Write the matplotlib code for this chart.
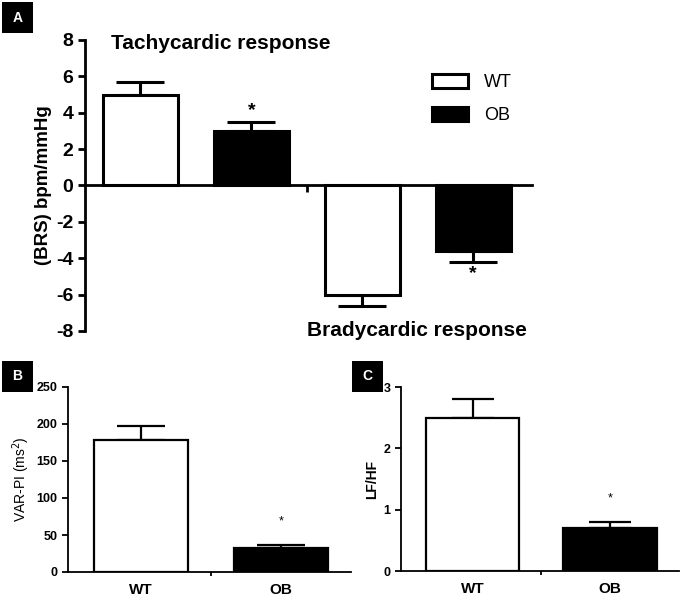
import matplotlib
matplotlib.use('Agg')
import matplotlib.pyplot as plt
from matplotlib.patches import Rectangle

plt.rcParams['font.family'] = ['Liberation Sans', 'DejaVu Sans']
plt.rcParams['axes.unicode_minus'] = False

# panel A: baroreflex sensitivity
groups = ['WT', 'OB']
tachy = [5.0, 3.0]
tachy_err = [0.7, 0.5]
brady = [-6.0, -3.6]
brady_err = [0.6, 0.6]

# panel B: VAR-PI
varpi = [178, 33]
varpi_err = [19, 4]

# panel C: LF/HF
lfhf = [2.5, 0.7]
lfhf_err = [0.3, 0.1]

colors = ['white', 'black']

fig = plt.figure(figsize=(6.8, 5.96), dpi=100)

def panel_label(x, y, s):
    fig.patches.append(Rectangle((x / 680, 1 - (y + 31) / 596), 31 / 680, 31 / 596,
                                 transform=fig.transFigure, facecolor='black', edgecolor='none'))
    fig.text((x + 15.5) / 680, 1 - (y + 15.5) / 596, s, color='white', fontsize=10,
             fontweight='bold', ha='center', va='center')

# ---- A ----
axA = fig.add_axes([85 / 680, 1 - 331 / 596, (532 - 85) / 680, (331 - 40) / 596])
pos = [0, 1, 2, 3]
vals = [tachy[0], tachy[1], brady[0], brady[1]]
errs = [tachy_err[0], tachy_err[1], brady_err[0], brady_err[1]]
cols = [colors[0], colors[1], colors[0], colors[1]]
bars = axA.bar(pos, vals, width=0.68, color=cols, edgecolor='black', linewidth=2.2, zorder=2)
bars[0].set_label('WT')
bars[1].set_label('OB')
for p, v, e in zip(pos, vals, errs):
    yerr = [[0], [e]] if v > 0 else [[e], [0]]
    axA.errorbar(p, v, yerr=yerr, fmt='none', ecolor='black', elinewidth=2.2,
                 capsize=17.5, capthick=2.2, zorder=1)
axA.set_xlim(-0.5, 3.53)
axA.set_ylim(-8, 8)
axA.set_yticks(range(-8, 9, 2))
axA.set_xticks([1.5])
axA.set_xticklabels([''])
axA.spines['top'].set_visible(False)
axA.spines['right'].set_visible(False)
axA.spines['bottom'].set_position(('data', 0))
for s in ['left', 'bottom']:
    axA.spines[s].set_linewidth(2)
axA.tick_params(axis='y', width=2, length=5, labelsize=14)
axA.tick_params(axis='x', width=2, length=5)
for t in axA.get_yticklabels():
    t.set_fontweight('bold')
axA.set_ylabel('(BRS) bpm/mmHg', fontsize=13.5, fontweight='bold', labelpad=3)
axA.text(0.72, 7.8, 'Tachycardic response', fontsize=15, fontweight='bold', ha='center', va='center')
axA.text(2.49, -7.95, 'Bradycardic response', fontsize=15, fontweight='bold', ha='center', va='center')
axA.text(1, 4.1, '*', fontsize=14, fontweight='bold', ha='center', va='center')
axA.text(3, -4.85, '*', fontsize=14, fontweight='bold', ha='center', va='center')
axA.legend(loc='upper left', bbox_to_anchor=(0.74, 0.94), frameon=False, fontsize=13,
           handlelength=2.0, handleheight=0.8, labelspacing=0.9, handletextpad=0.9)

# ---- B ----
axB = fig.add_axes([68 / 680, 1 - 572 / 596, (351 - 68) / 680, (572 - 387) / 596])
axB.bar([0, 1], varpi, width=0.67, color=colors, edgecolor='black', linewidth=1.6, zorder=2)
for p, v, e in zip([0, 1], varpi, varpi_err):
    axB.errorbar(p, v, yerr=[[0], [e]], fmt='none', ecolor='black', elinewidth=1.6,
                 capsize=17, capthick=1.6, zorder=1)
axB.set_xlim(-0.52, 1.5)
axB.set_ylim(0, 250)
axB.set_yticks(range(0, 251, 50))
axB.text(1, 68, '*', fontsize=9, ha='center', va='center')
axB.set_ylabel('VAR-PI (ms$^2$)', fontsize=10, labelpad=3)

# ---- C ----
axC = fig.add_axes([401 / 680, 1 - 571 / 596, (679 - 401) / 680, (571 - 387) / 596])
axC.bar([0, 1], lfhf, width=0.68, color=colors, edgecolor='black', linewidth=1.6, zorder=2)
for p, v, e in zip([0, 1], lfhf, lfhf_err):
    axC.errorbar(p, v, yerr=[[0], [e]], fmt='none', ecolor='black', elinewidth=1.6,
                 capsize=15, capthick=1.6, zorder=1)
axC.set_xlim(-0.52, 1.5)
axC.set_ylim(0, 3)
axC.set_yticks([0, 1, 2, 3])
axC.text(1, 1.18, '*', fontsize=9, ha='center', va='center')
axC.set_ylabel('LF/HF', fontsize=10, fontweight='bold', labelpad=3)

for ax in (axB, axC):
    ax.spines['top'].set_visible(False)
    ax.spines['right'].set_visible(False)
    ax.spines['left'].set_linewidth(1.3)
    ax.spines['bottom'].set_linewidth(1.3)
    ax.set_xticks([0.5], minor=False)
    ax.set_xticklabels([''])
    ax.tick_params(axis='x', width=1.3, length=3)
    ax.tick_params(axis='y', width=1.3, length=4, labelsize=9)
    for t in ax.get_yticklabels():
        t.set_fontweight('bold')
    for p, g in zip([0, 1], groups):
        ax.annotate(g, xy=(p, 0), xycoords=('data', 'axes fraction'), xytext=(0, -13),
                    textcoords='offset points', ha='center', va='center',
                    fontsize=11, fontweight='bold')

panel_label(2, 2, 'A')
panel_label(2, 361, 'B')
panel_label(352, 361, 'C')

fig.savefig('out.png', dpi=100)
